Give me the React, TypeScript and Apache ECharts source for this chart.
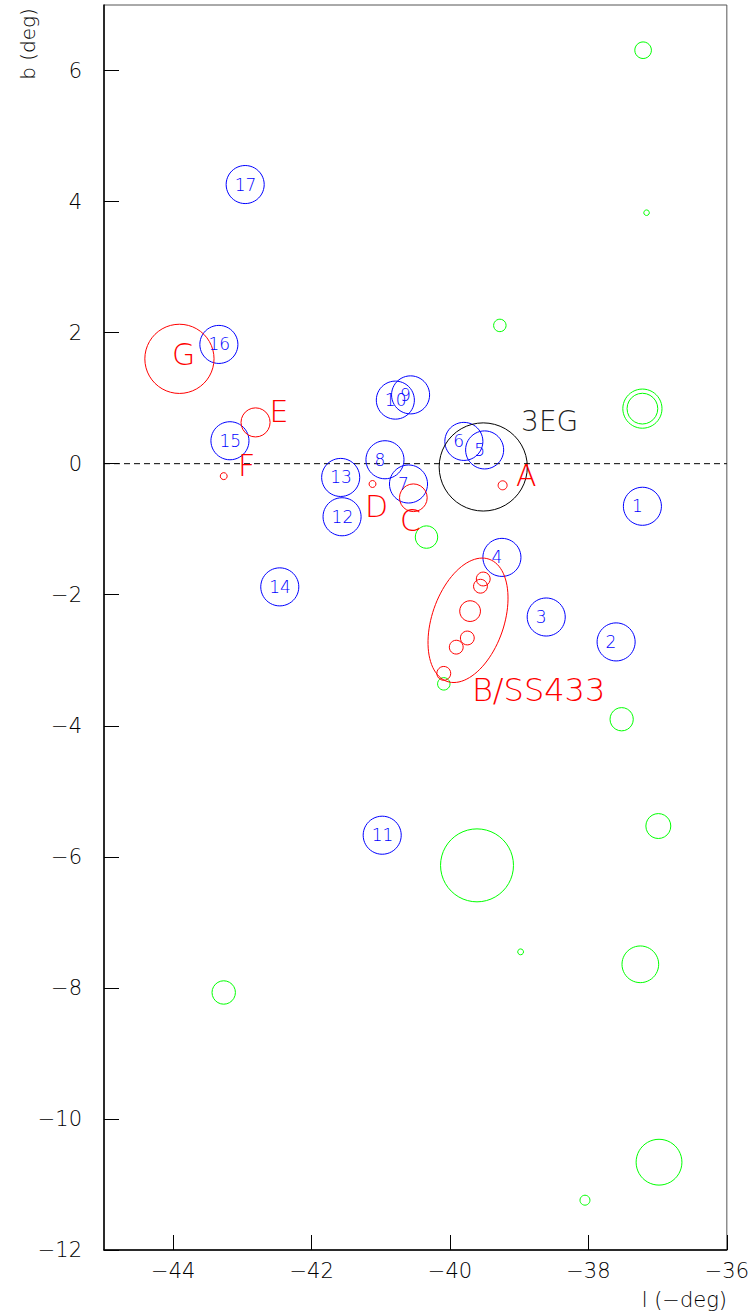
import React, { useEffect, useRef } from "react";
import * as echarts from "echarts";

// ---- data (galactic l in -deg, b in deg, radius in deg of l) ----
const xTicks = [-44, -42, -40, -38, -36];
const yTicks = [-12, -10, -8, -6, -4, -2, 0, 2, 4, 6];

const blueLabels = ["1", "2", "3", "4", "5", "6", "7", "8", "9", "10", "11", "12", "13", "14", "15", "16", "17"];
const blueL = [-37.22, -37.6, -38.61, -39.25, -39.5, -39.8, -40.6, -40.94, -40.57, -40.79, -40.98, -41.56, -41.58, -42.46, -43.18, -43.34, -42.96];
const blueB = [-0.65, -2.72, -2.34, -1.43, 0.21, 0.34, -0.31, 0.06, 1.05, 0.97, -5.67, -0.81, -0.21, -1.88, 0.35, 1.82, 4.26];
const blueR = [0.275, 0.275, 0.275, 0.275, 0.275, 0.275, 0.275, 0.275, 0.275, 0.275, 0.275, 0.275, 0.275, 0.275, 0.275, 0.275, 0.275];

const redL = [-43.91, -42.81, -43.27, -41.12, -40.53, -39.24, -39.52, -39.56, -39.71, -39.75, -39.91, -40.09];
const redB = [1.6, 0.63, -0.19, -0.31, -0.52, -0.33, -1.76, -1.87, -2.25, -2.66, -2.8, -3.2];
const redR = [0.5, 0.21, 0.05, 0.05, 0.2, 0.065, 0.1, 0.1, 0.15, 0.1, 0.1, 0.1];

const redText = ["G", "E", "F", "D", "C", "A", "B/SS433"];
const redTextL = [-43.85, -42.47, -42.94, -41.06, -40.57, -38.9, -38.72];
const redTextB = [1.66, 0.79, -0.03, -0.66, -0.86, -0.18, -3.45];
const redTextSize = [30, 30, 30, 30, 30, 30, 32];

const ssL = [-39.74];
const ssB = [-2.39];
const ssMajor = [0.934];
const ssMinor = [0.52];
const ssTiltDeg = [19];

const egL = [-39.52];
const egB = [-0.05];
const egR = [0.637];
const egText = ["3EG"];
const egTextL = [-38.56];
const egTextB = [0.65];
const egTextSize = [28];

const greenL = [-37.21, -37.16, -39.28, -37.22, -37.22, -40.34, -40.09, -37.52, -36.99, -39.61, -38.98, -37.25, -43.27, -36.98, -38.05];
const greenB = [6.31, 3.83, 2.11, 0.84, 0.84, -1.12, -3.36, -3.9, -5.53, -6.13, -7.45, -7.64, -8.07, -10.66, -11.24];
const greenR = [0.12, 0.04, 0.09, 0.283, 0.222, 0.162, 0.09, 0.168, 0.18, 0.527, 0.042, 0.265, 0.169, 0.331, 0.072];

const blueTextSize = blueLabels.map(() => 17);

const BLUE = "#0000ff";
const RED = "#ff0000";
const GREEN = "#00ff00";
const BLACK = "#000000";
const FONT = "DejaVu Sans";
const WEIGHT = 200;

const fmtNum = (v: number) => (v < 0 ? "\u2212" + Math.abs(v) : String(v));

function circleSeries(L: number[], B: number[], R: number[], color: string) {
  return {
    type: "custom",
    coordinateSystem: "cartesian2d",
    data: L.map((l, i) => [l, B[i], R[i]]),
    renderItem: (params: any, api: any) => {
      const c = api.coord([api.value(0), api.value(1)]);
      const r = api.size([api.value(2), 0])[0];
      return {
        type: "circle",
        shape: { cx: c[0], cy: c[1], r },
        style: { fill: "none", stroke: color, lineWidth: 1 },
      };
    },
    z: 3,
  };
}

function textSeries(L: number[], B: number[], T: string[], S: number[], color: string, align: string, dx: number) {
  return {
    type: "custom",
    coordinateSystem: "cartesian2d",
    data: L.map((l, i) => [l, B[i], i]),
    renderItem: (params: any, api: any) => {
      const c = api.coord([api.value(0), api.value(1)]);
      const idx = api.value(2);
      return {
        type: "text",
        x: c[0] + dx,
        y: c[1],
        style: {
          text: T[idx],
          fill: color,
          fontSize: S[idx],
          fontFamily: FONT,
          fontWeight: WEIGHT,
          align,
          verticalAlign: "middle",
        },
      };
    },
    z: 4,
  };
}

export default function App() {
  const ref = useRef<HTMLDivElement>(null);
  useEffect(() => {
    if (!ref.current) return;
    const chart = echarts.init(ref.current, null, { renderer: "svg" });
    const option: any = {
      animation: false,
      backgroundColor: "#ffffff",
      grid: {
        left: 104,
        right: 25,
        top: 5,
        bottom: 66,
        show: true,
        borderColor: "#555",
        borderWidth: 1,
      },
      xAxis: {
        type: "value",
        min: -45,
        max: -36,
        splitLine: { show: false },
        axisLine: { onZero: false, lineStyle: { color: BLACK, width: 1.5 } },
        axisTick: { inside: true, length: 15, customValues: xTicks, lineStyle: { color: BLACK } },
        axisLabel: {
          customValues: xTicks,
          formatter: fmtNum,
          fontSize: 21,
          fontFamily: FONT,
          fontWeight: WEIGHT,
          color: "#000",
          margin: 10,
        },
      },
      yAxis: {
        type: "value",
        min: -12,
        max: 7,
        splitLine: { show: false },
        axisLine: { onZero: false, lineStyle: { color: BLACK, width: 1.5 } },
        axisTick: { inside: true, length: 15, customValues: yTicks, lineStyle: { color: BLACK } },
        axisLabel: {
          customValues: yTicks,
          formatter: fmtNum,
          fontSize: 21,
          fontFamily: FONT,
          fontWeight: WEIGHT,
          color: "#000",
          margin: 22,
        },
      },
      graphic: [
        {
          type: "text",
          x: 28,
          y: 44,
          rotation: Math.PI / 2,
          style: {
            text: "b (deg)",
            fontSize: 20,
            fontFamily: FONT,
            fontWeight: WEIGHT,
            fill: "#000",
            align: "center",
            verticalAlign: "middle",
          },
        },
        {
          type: "text",
          x: 727,
          y: 1300,
          style: {
            text: "l (\u2212deg)",
            fontSize: 21,
            fontFamily: FONT,
            fontWeight: WEIGHT,
            fill: "#000",
            align: "right",
            verticalAlign: "middle",
          },
        },
      ],
      series: [
        {
          type: "line",
          data: [
            [-45, 0],
            [-36, 0],
          ],
          symbol: "none",
          lineStyle: { color: "#000", width: 1, type: [6, 4] },
          z: 2,
        },
        circleSeries(greenL, greenB, greenR, GREEN),
        circleSeries(blueL, blueB, blueR, BLUE),
        circleSeries(redL, redB, redR, RED),
        circleSeries(egL, egB, egR, BLACK),
        {
          type: "custom",
          coordinateSystem: "cartesian2d",
          data: ssL.map((l, i) => [l, ssB[i], ssMajor[i], ssMinor[i], ssTiltDeg[i]]),
          renderItem: (params: any, api: any) => {
            const c = api.coord([api.value(0), api.value(1)]);
            const a = api.size([api.value(2), 0])[0];
            const b = api.size([api.value(3), 0])[0];
            const t = (api.value(4) * Math.PI) / 180;
            const mx = Math.sin(t), my = -Math.cos(t);
            const nx = Math.cos(t), ny = Math.sin(t);
            const pts: number[][] = [];
            for (let k = 0; k < 96; k++) {
              const u = (k / 96) * Math.PI * 2;
              const ca = Math.cos(u) * a, sb = Math.sin(u) * b;
              pts.push([c[0] + ca * mx + sb * nx, c[1] + ca * my + sb * ny]);
            }
            return {
              type: "polygon",
              shape: { points: pts },
              style: { fill: "none", stroke: RED, lineWidth: 1 },
            };
          },
          z: 3,
        },
        textSeries(blueL, blueB, blueLabels, blueTextSize, BLUE, "left", -10.5),
        textSeries(redTextL, redTextB, redText, redTextSize, RED, "center", 0),
        textSeries(egTextL, egTextB, egText, egTextSize, "#222", "center", 0),
      ],
    };
    chart.setOption(option);
    return () => chart.dispose();
  }, []);
  return (
    <div
      ref={ref}
      style={{ position: "absolute", left: 0, top: 0, width: 752, height: 1316, background: "#fff" }}
    />
  );
}
